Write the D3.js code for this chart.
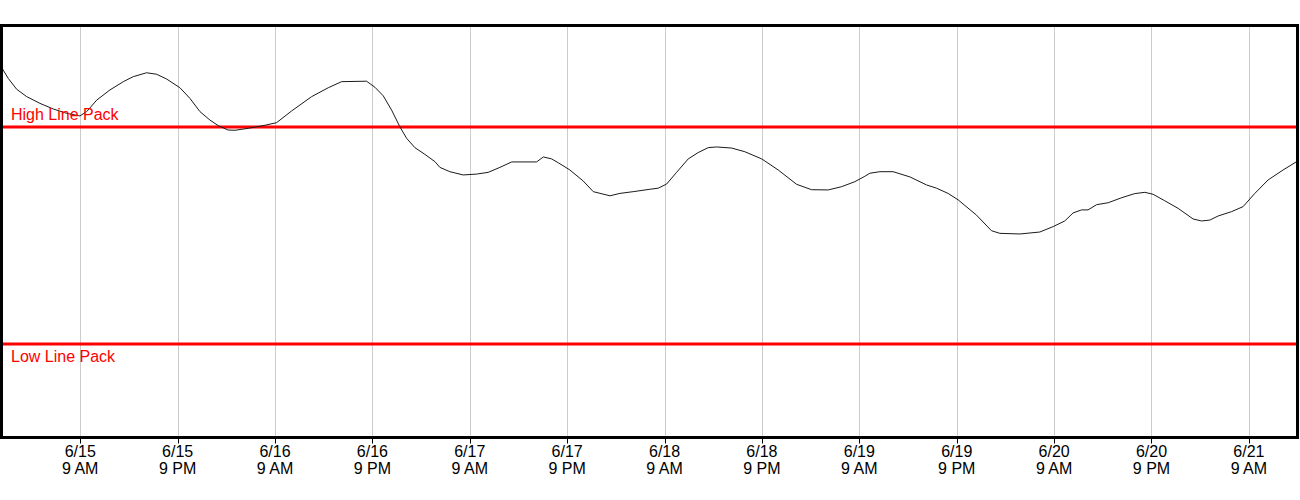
<!DOCTYPE html>
<html>
<head>
<meta charset="utf-8">
<script src="https://cdn.jsdelivr.net/npm/d3@7"></script>
<style>
  html, body { margin: 0; padding: 0; background: #fff; }
  svg { display: block; font-family: Arial, "Liberation Sans", sans-serif; }
</style>
</head>
<body>
<svg id="chart" width="1300" height="500"></svg>
<script>
// ---- data ----
const times = [
  "2023-06-14 23:18","2023-06-15 00:08","2023-06-15 01:10","2023-06-15 02:24","2023-06-15 04:02",
  "2023-06-15 05:41","2023-06-15 07:20","2023-06-15 08:58","2023-06-15 09:48","2023-06-15 11:02",
  "2023-06-15 12:40","2023-06-15 14:19","2023-06-15 15:32","2023-06-15 17:11","2023-06-15 18:25",
  "2023-06-15 19:39","2023-06-15 21:17","2023-06-15 22:31","2023-06-15 23:45","2023-06-16 00:59",
  "2023-06-16 02:01","2023-06-16 03:14","2023-06-16 04:04","2023-06-16 05:43","2023-06-16 07:46",
  "2023-06-16 09:12","2023-06-16 11:03","2023-06-16 13:31","2023-06-16 15:34","2023-06-16 17:13",
  "2023-06-16 20:17","2023-06-16 21:19","2023-06-16 22:20","2023-06-16 23:22","2023-06-17 00:23",
  "2023-06-17 01:13","2023-06-17 02:14","2023-06-17 03:28","2023-06-17 04:43","2023-06-17 05:19",
  "2023-06-17 06:33","2023-06-17 08:11","2023-06-17 09:50","2023-06-17 11:16","2023-06-17 12:43",
  "2023-06-17 14:10","2023-06-17 17:14","2023-06-17 18:04","2023-06-17 19:05","2023-06-17 19:55",
  "2023-06-17 21:20","2023-06-17 22:59","2023-06-18 00:13","2023-06-18 02:16","2023-06-18 03:30",
  "2023-06-18 05:08","2023-06-18 07:11","2023-06-18 08:13","2023-06-18 09:15","2023-06-18 10:29",
  "2023-06-18 11:55","2023-06-18 13:08","2023-06-18 14:23","2023-06-18 15:25","2023-06-18 17:16",
  "2023-06-18 18:54","2023-06-18 20:58","2023-06-18 23:00","2023-06-19 01:16","2023-06-19 03:07",
  "2023-06-19 05:10","2023-06-19 06:49","2023-06-19 08:27","2023-06-19 09:41","2023-06-19 10:18",
  "2023-06-19 11:32","2023-06-19 13:10","2023-06-19 15:14","2023-06-19 17:17","2023-06-19 18:31",
  "2023-06-19 19:56","2023-06-19 21:11","2023-06-19 23:26","2023-06-20 01:17","2023-06-20 02:19",
  "2023-06-20 04:47","2023-06-20 07:14","2023-06-20 08:53","2023-06-20 10:19","2023-06-20 11:20",
  "2023-06-20 12:23","2023-06-20 13:11","2023-06-20 14:14","2023-06-20 15:40","2023-06-20 17:19",
  "2023-06-20 18:56","2023-06-20 20:11","2023-06-20 21:12","2023-06-20 22:38","2023-06-21 00:17",
  "2023-06-21 02:08","2023-06-21 03:10","2023-06-21 04:11","2023-06-21 05:13","2023-06-21 06:52",
  "2023-06-21 08:17","2023-06-21 09:44","2023-06-21 11:22","2023-06-21 13:13","2023-06-21 14:52"
];
const linePack = [
  477.5,472.4,467.4,464.0,460.9, 458.3,456.3,455.1,457.1,462.4,
  467.1,470.9,473.2,475.0,474.3, 472.1,468.1,463.2,457.1,453.2,
  450.6,448.6,448.5,449.4,450.8, 452.0,457.4,464.0,468.1,470.9,
  471.1,468.3,464.4,457.8,450.1, 444.8,440.5,437.4,434.0,431.4,
  429.4,427.9,428.3,429.1,431.4, 433.9,433.9,436.2,435.3,433.5,
  430.2,425.1,420.2,418.3,419.4, 420.2,421.3,421.8,423.7,429.1,
  435.3,438.2,440.5,440.8,440.3, 438.6,435.3,430.2,423.6,421.1,
  421.0,422.5,424.8,427.3,428.7, 429.4,429.4,427.0,423.3,421.8,
  419.4,416.4,409.4,402.2,401.0, 400.7,401.6,404.1,406.7,410.4,
  411.8,411.8,414.2,415.1,417.4, 419.3,419.9,419.0,416.0,412.5,
  407.6,406.7,407.1,409.0,411.0, 413.3,419.4,425.6,430.2,434.0
];
const tickTimes = [
  "2023-06-15 09:00","2023-06-15 21:00","2023-06-16 09:00","2023-06-16 21:00",
  "2023-06-17 09:00","2023-06-17 21:00","2023-06-18 09:00","2023-06-18 21:00",
  "2023-06-19 09:00","2023-06-19 21:00","2023-06-20 09:00","2023-06-20 21:00",
  "2023-06-21 09:00"
];
const limitNames = ["High Line Pack", "Low Line Pack"];
const limitValues = [450, 350];

// ---- chart ----
const parse = d3.timeParse("%Y-%m-%d %H:%M");
const data = times.map((t, i) => ({ t: parse(t), v: linePack[i] }));
const ticks = tickTimes.map(parse);

const svg = d3.select("#chart");
const plot = { left: 1.5, right: 1297.5, top: 25.5, bottom: 437.5 };

const x = d3.scaleTime().domain(d3.extent(data, d => d.t)).range([1.5, 1296.5]);
const y = d3.scaleLinear().domain([350, 450]).range([344, 127]);

// gridlines
svg.append("g").selectAll("line").data(ticks).join("line")
  .attr("x1", d => Math.round(x(d)) + 0.5).attr("x2", d => Math.round(x(d)) + 0.5)
  .attr("y1", plot.top).attr("y2", plot.bottom)
  .attr("stroke", "#cccccc").attr("stroke-width", 1);

// limit lines
svg.append("g").selectAll("line").data(limitValues).join("line")
  .attr("x1", plot.left).attr("x2", plot.right)
  .attr("y1", d => y(d)).attr("y2", d => y(d))
  .attr("stroke", "#ff0000").attr("stroke-width", 3);

// data line
svg.append("path").datum(data)
  .attr("fill", "none").attr("stroke", "#1a1a1a").attr("stroke-width", 1)
  .attr("d", d3.line().x(d => x(d.t)).y(d => y(d.v)));

// limit labels
svg.append("g").selectAll("text").data(limitValues).join("text")
  .attr("x", 11)
  .attr("y", (d, i) => i === 0 ? y(d) - 7.5 : y(d) + 18)
  .attr("fill", "#ff0000").attr("font-size", 16)
  .text((d, i) => limitNames[i]);

// x axis ticks
const axis = d3.axisBottom(x).tickValues(ticks).tickSize(6).tickFormat("");
const ax = svg.append("g").attr("transform", `translate(0.5,${plot.bottom})`).call(axis);
ax.select(".domain").remove();
ax.selectAll(".tick line").attr("stroke", "#000");
ax.selectAll(".tick").attr("transform", d => `translate(${Math.round(x(d))},0)`);

const fmtDate = d3.timeFormat("%-m/%-d");
const fmtHour = d3.timeFormat("%-I %p");
const labels = svg.append("g").selectAll("text").data(ticks).join("text")
  .attr("text-anchor", "middle").attr("font-size", 16).attr("fill", "#000");
labels.append("tspan").attr("x", d => x(d)).attr("y", 457).text(d => fmtDate(d));
labels.append("tspan").attr("x", d => x(d)).attr("y", 474).text(d => fmtHour(d));

// border
svg.append("rect")
  .attr("x", plot.left).attr("y", plot.top)
  .attr("width", plot.right - plot.left).attr("height", plot.bottom - plot.top)
  .attr("fill", "none").attr("stroke", "#000").attr("stroke-width", 3);
</script>
</body>
</html>
